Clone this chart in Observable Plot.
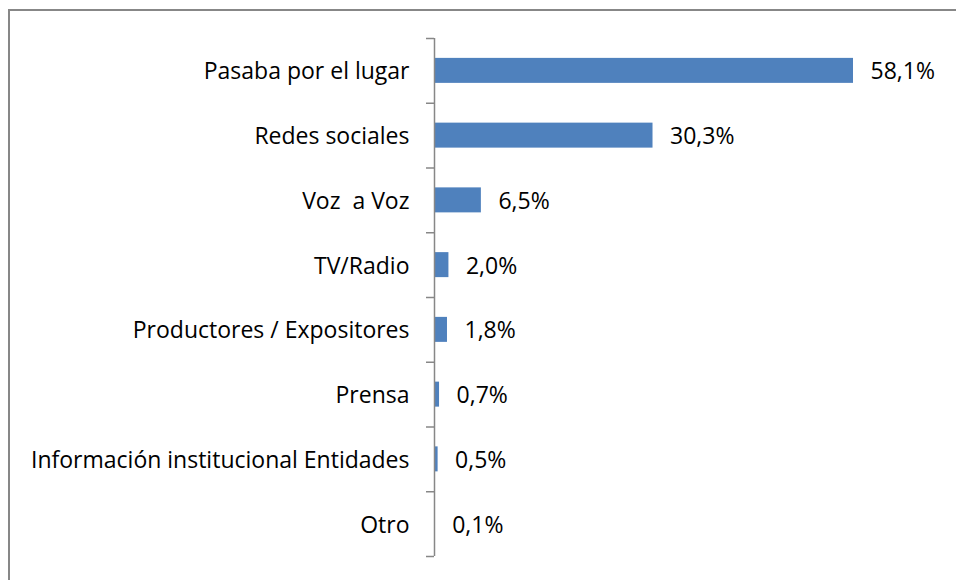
<!DOCTYPE html>
<html><head><meta charset="utf-8">
<script src="https://cdn.jsdelivr.net/npm/d3@7"></script>
<script src="https://cdn.jsdelivr.net/npm/@observablehq/plot@0.6"></script>
<style>
body{margin:0;background:#fff;overflow:hidden;}
#frame{position:absolute;left:8px;top:9px;width:1200px;height:800px;border:2px solid #878787;}
#chart{position:absolute;left:0;top:0;}
</style></head>
<body><div id="frame"></div><div id="chart"></div>
<script>
const categories = ["Pasaba por el lugar","Redes sociales","Voz  a Voz","TV/Radio","Productores / Expositores","Prensa","Información institucional Entidades","Otro"];
const values = [58.1,30.3,6.5,2.0,1.8,0.7,0.5,0.1];
const labels = ["58,1%","30,3%","6,5%","2,0%","1,8%","0,7%","0,5%","0,1%"];

const data = categories.map((c,i)=>({cat:c, i, v:values[i], label:labels[i]}));
const n = categories.length;
const pad = 0.307;
const font = "'Open Sans', sans-serif";
const fs = 23;

const chart = Plot.plot({
  width:956, height:580,
  marginLeft:434, marginRight:103, marginTop:38, marginBottom:24,
  style:{fontFamily:font, fontSize:fs+"px", color:"#000", background:"transparent"},
  x:{type:"linear", domain:[0,58.1], axis:null},
  y:{type:"linear", domain:[0,n], range:[38,556], axis:null},
  marks:[
    Plot.rectX(data,{x1:0, x2:"v", y1:d=>d.i+pad, y2:d=>d.i+1-pad, fill:"#4F81BD"}),
    Plot.text(data,{x:"v", y:d=>d.i+0.5, text:"label", textAnchor:"start", dx:17, dy:1, fontSize:fs, fill:"#000"}),
    Plot.text(data,{x:0, y:d=>d.i+0.5, text:"cat", textAnchor:"end", dx:-25, dy:1, fontSize:fs, fill:"#000"}),
    Plot.axisY({ticks:d3.range(n+1), tickFormat:()=>"", tickSize:8, stroke:"#878787", strokeWidth:1.5, strokeOpacity:1}),
    Plot.ruleX([0],{y1:0, y2:n, stroke:"#878787", strokeWidth:1.5})
  ]
});
document.getElementById("chart").appendChild(chart);
</script></body></html>
